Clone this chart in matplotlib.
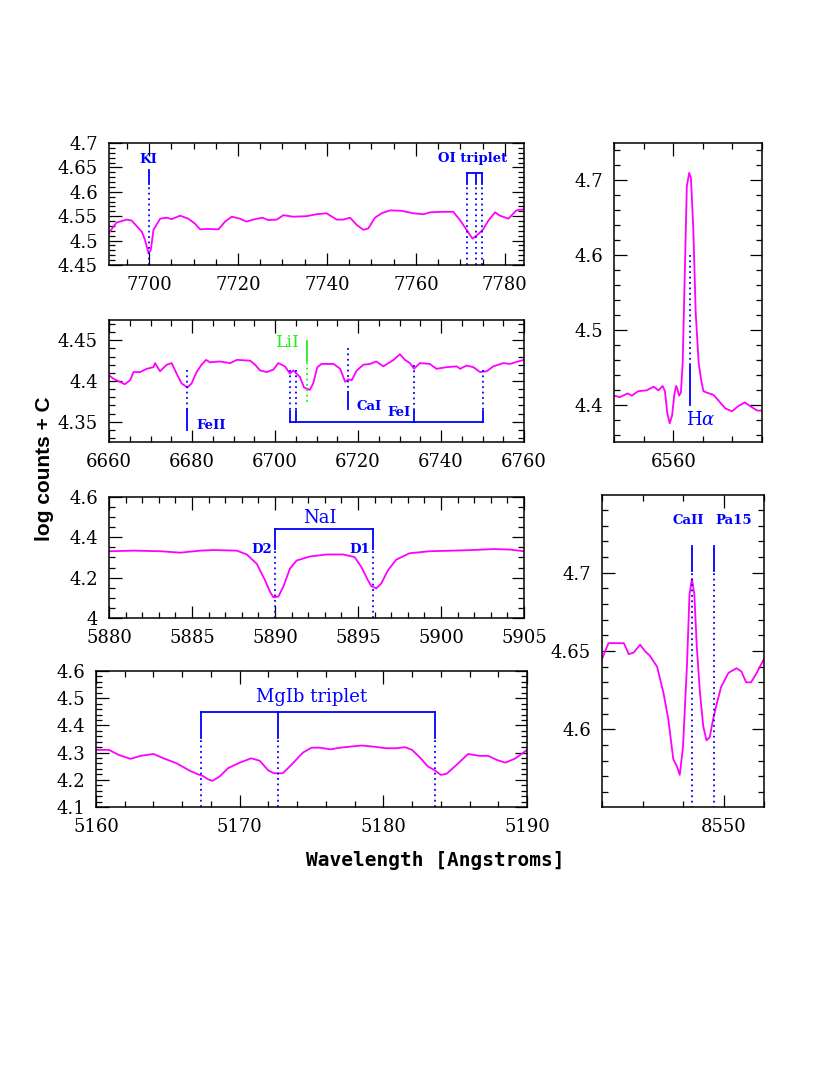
from __future__ import annotations

import matplotlib

matplotlib.use("Agg")
import matplotlib.pyplot as plt
from matplotlib.ticker import FuncFormatter, MultipleLocator


# ---------------------------------------------------------------------------
# Spectra (wavelength [A], log counts + C)
# ---------------------------------------------------------------------------

KI_WAVE = [7691.0, 7692.7, 7695.0, 7696.1, 7698.4, 7699.1, 7699.9, 7700.4,
           7701.0, 7702.5, 7704.0, 7705.1, 7707.0, 7708.8, 7710.3, 7711.5,
           7713.0, 7715.6, 7717.1, 7718.6, 7720.4, 7721.9, 7723.4, 7725.5,
           7726.8, 7728.7, 7730.2, 7732.4, 7735.4, 7737.7, 7739.9, 7742.2,
           7743.7, 7745.2, 7746.7, 7748.2, 7749.3, 7750.8, 7752.3, 7754.2,
           7756.8, 7759.4, 7761.7, 7763.2, 7766.1, 7768.4, 7769.9, 7771.4,
           7772.7, 7774.0, 7775.1, 7776.3, 7777.8, 7778.9, 7780.8, 7782.6,
           7784.3]
KI_FLUX = [4.516, 4.537, 4.543, 4.541, 4.518, 4.501, 4.474, 4.481,
           4.522, 4.545, 4.547, 4.544, 4.551, 4.545, 4.535, 4.523,
           4.524, 4.523, 4.539, 4.549, 4.545, 4.539, 4.543, 4.547,
           4.542, 4.543, 4.552, 4.549, 4.550, 4.554, 4.556, 4.543,
           4.543, 4.547, 4.532, 4.522, 4.525, 4.547, 4.556, 4.562,
           4.561, 4.556, 4.554, 4.558, 4.559, 4.559, 4.542, 4.522,
           4.504, 4.513, 4.523, 4.541, 4.558, 4.551, 4.545, 4.562,
           4.564]

LI_WAVE = [6660.0, 6661.0, 6662.2, 6663.8, 6665.1, 6665.9, 6667.5, 6669.1,
           6670.7, 6671.1, 6672.3, 6673.9, 6675.1, 6676.3, 6677.5, 6678.9,
           6679.9, 6681.1, 6682.3, 6683.4, 6684.3, 6686.7, 6689.2, 6690.8,
           6694.0, 6695.2, 6696.4, 6698.0, 6699.6, 6700.8, 6702.4, 6703.6,
           6704.4, 6706.0, 6707.0, 6708.4, 6709.2, 6710.2, 6711.2, 6714.1,
           6715.7, 6716.9, 6717.7, 6718.5, 6719.7, 6721.3, 6722.9, 6724.4,
           6726.1, 6728.6, 6730.1, 6731.3, 6732.5, 6733.5, 6734.9, 6737.3,
           6738.9, 6741.4, 6743.8, 6744.6, 6746.2, 6747.8, 6749.4, 6751.0,
           6752.6, 6755.0, 6756.6, 6758.6, 6760.0]
LI_FLUX = [4.407, 4.403, 4.400, 4.396, 4.401, 4.411, 4.411, 4.415,
           4.417, 4.422, 4.412, 4.420, 4.422, 4.409, 4.397, 4.392,
           4.397, 4.411, 4.420, 4.426, 4.423, 4.424, 4.422, 4.426,
           4.425, 4.420, 4.413, 4.411, 4.414, 4.422, 4.418, 4.409,
           4.413, 4.405, 4.392, 4.389, 4.397, 4.417, 4.421, 4.421,
           4.415, 4.399, 4.402, 4.401, 4.413, 4.420, 4.421, 4.424,
           4.418, 4.426, 4.433, 4.426, 4.422, 4.415, 4.422, 4.421,
           4.415, 4.417, 4.418, 4.415, 4.419, 4.417, 4.411, 4.412,
           4.418, 4.422, 4.421, 4.424, 4.426]

NA_WAVE = [5880.0, 5881.5, 5883.1, 5884.3, 5885.5, 5886.3, 5887.7, 5888.3,
           5888.9, 5889.4, 5889.7, 5889.9, 5890.2, 5890.5, 5890.9, 5891.3,
           5892.1, 5893.1, 5894.1, 5894.8, 5895.2, 5895.6, 5895.8, 5896.1,
           5896.4, 5896.8, 5897.3, 5898.1, 5899.3, 5900.7, 5901.9, 5903.2,
           5904.2, 5905.0]
NA_FLUX = [4.331, 4.334, 4.331, 4.324, 4.334, 4.337, 4.334, 4.315,
           4.269, 4.187, 4.130, 4.103, 4.106, 4.155, 4.245, 4.285,
           4.305, 4.315, 4.315, 4.302, 4.253, 4.187, 4.158, 4.147,
           4.171, 4.236, 4.289, 4.321, 4.331, 4.334, 4.337, 4.342,
           4.339, 4.331]

MG_WAVE = [5160.0, 5160.9, 5161.6, 5162.4, 5163.1, 5164.0, 5164.7, 5165.6,
           5166.5, 5167.1, 5167.4, 5167.8, 5168.1, 5168.6, 5169.2, 5170.0,
           5170.8, 5171.4, 5172.0, 5172.4, 5173.0, 5173.6, 5174.4, 5175.0,
           5175.6, 5176.3, 5177.0, 5177.7, 5178.5, 5179.3, 5180.2, 5180.9,
           5181.5, 5182.0, 5182.6, 5183.1, 5183.6, 5184.0, 5184.4, 5185.1,
           5185.9, 5186.7, 5187.3, 5187.9, 5188.5, 5189.2, 5190.0]
MG_FLUX = [4.310, 4.310, 4.291, 4.277, 4.288, 4.295, 4.279, 4.261,
           4.234, 4.220, 4.215, 4.202, 4.196, 4.212, 4.243, 4.263,
           4.279, 4.270, 4.234, 4.224, 4.224, 4.255, 4.300, 4.318,
           4.318, 4.312, 4.318, 4.322, 4.326, 4.322, 4.316, 4.316,
           4.320, 4.310, 4.279, 4.249, 4.234, 4.218, 4.222, 4.255,
           4.295, 4.288, 4.288, 4.273, 4.263, 4.279, 4.310]

HA_WAVE = [6550.0, 6551.0, 6552.3, 6553.0, 6554.1, 6555.5, 6556.7, 6557.5,
           6558.2, 6558.6, 6559.0, 6559.4, 6559.8, 6560.2, 6560.5, 6560.7,
           6561.0, 6561.3, 6561.6, 6562.0, 6562.3, 6562.7, 6563.0, 6563.4,
           6563.8, 6564.3, 6564.7, 6565.1, 6565.7, 6566.8, 6567.7, 6568.8,
           6569.9, 6571.0, 6572.1, 6573.0, 6574.2, 6575.0]
HA_FLUX = [4.412, 4.410, 4.415, 4.412, 4.418, 4.419, 4.424, 4.419,
           4.425, 4.418, 4.389, 4.375, 4.385, 4.414, 4.425, 4.421,
           4.412, 4.416, 4.456, 4.590, 4.692, 4.710, 4.703, 4.634,
           4.523, 4.456, 4.434, 4.418, 4.416, 4.413, 4.405, 4.395,
           4.391, 4.398, 4.403, 4.398, 4.392, 4.392]

CA_WAVE = [8535.0, 8535.8, 8537.0, 8537.7, 8538.3, 8538.9, 8539.7, 8540.3,
           8540.9, 8541.8, 8542.6, 8543.2, 8543.8, 8544.2, 8544.6, 8545.0,
           8545.5, 8545.8, 8546.1, 8546.4, 8546.7, 8547.1, 8547.5, 8547.9,
           8548.3, 8548.7, 8549.1, 8549.7, 8550.6, 8551.6, 8552.2, 8552.8,
           8553.4, 8554.1, 8555.0]
CA_FLUX = [4.645, 4.655, 4.655, 4.655, 4.648, 4.649, 4.654, 4.650,
           4.647, 4.640, 4.623, 4.606, 4.581, 4.577, 4.571, 4.589,
           4.642, 4.686, 4.696, 4.686, 4.653, 4.623, 4.602, 4.593,
           4.595, 4.606, 4.615, 4.627, 4.636, 4.639, 4.637, 4.630,
           4.630, 4.636, 4.645]

# line identifications
KI_LINE = 7699.9
OI_LINES = [7771.4, 7773.5, 7774.8]
FEII_LINE = 6678.9
FEI_LINES = [6703.6, 6705.0, 6733.5, 6750.0]
LII_LINE = 6707.8
CAI_LINE = 6717.5
NA_LINES = [5890.0, 5895.9]
NA_NAMES = ["D2", "D1"]
MG_LINES = [5167.3, 5172.7, 5183.6]
HA_LINE = 6562.9
CA_LINES = [8546.1, 8548.8]
CA_NAMES = ["CaII", "Pa15"]


# ---------------------------------------------------------------------------
# Helpers
# ---------------------------------------------------------------------------

FIG_W, FIG_H = 830, 1075
SPEC = "#ff00ff"
BLUE = "#0000ff"
GREEN = "#22ee22"
DOT = (0, (1, 2))


def px_box(x0: float, y0: float, x1: float, y1: float) -> list:
    """Pixel box (top-left origin) -> figure-fraction rect."""
    return [x0 / FIG_W, 1 - y1 / FIG_H, (x1 - x0) / FIG_W, (y1 - y0) / FIG_H]


def style_axis(ax, xlim, ylim, xmaj, xmin, ymaj, ymin) -> None:
    """SM-like box: inward ticks on every side."""
    ax.set_xlim(*xlim)
    ax.set_ylim(*ylim)
    ax.xaxis.set_major_locator(MultipleLocator(xmaj))
    ax.xaxis.set_minor_locator(MultipleLocator(xmin))
    ax.yaxis.set_major_locator(MultipleLocator(ymaj))
    ax.yaxis.set_minor_locator(MultipleLocator(ymin))
    fmt = FuncFormatter(lambda v, _: f"{v:.6g}")
    ax.xaxis.set_major_formatter(fmt)
    ax.yaxis.set_major_formatter(fmt)
    ax.tick_params(which="both", direction="in", top=True, right=True,
                   labelsize=13, pad=8)
    ax.tick_params(which="major", length=9, width=0.9)
    ax.tick_params(which="minor", length=4.5, width=0.9)


def mark(ax, x, y_dot0, y_dot1, y_solid, color=BLUE) -> None:
    """Dotted segment y_dot0..y_dot1, then solid y_dot1..y_solid."""
    ax.plot([x, x], [y_dot0, y_dot1], color=color, lw=1.3, ls=DOT)
    ax.plot([x, x], [y_dot1, y_solid], color=color, lw=1.3)


def bold_label(ax, x, y, s, ha="center") -> None:
    ax.text(x, y, s, color=BLUE, fontsize=9.5, fontweight="bold",
            ha=ha, va="center")


# ---------------------------------------------------------------------------
# Figure
# ---------------------------------------------------------------------------

plt.rcParams["font.family"] = ["DejaVu Serif"]
plt.rcParams["mathtext.fontset"] = "dejavuserif"
plt.rcParams["axes.linewidth"] = 1.1

fig = plt.figure(figsize=(FIG_W / 100, FIG_H / 100), dpi=100)

# KI / OI triplet
ax = fig.add_axes(px_box(109, 143, 524, 265))
ax.plot(KI_WAVE, KI_FLUX, color=SPEC, lw=1.3)
style_axis(ax, (7691, 7784.3), (4.45, 4.70), 20, 5, 0.05, 0.01)
mark(ax, KI_LINE, 4.45, 4.617, 4.644)
bold_label(ax, KI_LINE, 4.666, "KI")
for w in OI_LINES:
    mark(ax, w, 4.45, 4.617, 4.639)
ax.plot([OI_LINES[0], OI_LINES[-1]], [4.639, 4.639], color=BLUE, lw=1.3)
bold_label(ax, 7772.8, 4.668, "OI triplet")

# LiI region
ax = fig.add_axes(px_box(109, 320, 524, 442))
ax.plot(LI_WAVE, LI_FLUX, color=SPEC, lw=1.3)
style_axis(ax, (6660, 6760), (4.325, 4.475), 20, 5, 0.05, 0.01)
mark(ax, FEII_LINE, 4.414, 4.365, 4.340)
bold_label(ax, FEII_LINE + 2.2, 4.345, "FeII", ha="left")
for w, top in zip(FEI_LINES, [4.413, 4.413, 4.420, 4.413]):
    mark(ax, w, top, 4.363, 4.350)
ax.plot([FEI_LINES[0], FEI_LINES[-1]], [4.350, 4.350], color=BLUE, lw=1.3)
bold_label(ax, 6729.9, 4.361, "FeI")
mark(ax, CAI_LINE, 4.440, 4.387, 4.365)
bold_label(ax, CAI_LINE + 2.2, 4.369, "CaI", ha="left")
mark(ax, LII_LINE, 4.374, 4.424, 4.449, color=GREEN)
ax.text(6703.1, 4.447, "LiI", color=GREEN, fontsize=12.5, ha="center", va="center")

# NaI doublet
ax = fig.add_axes(px_box(109, 497, 524, 618))
ax.plot(NA_WAVE, NA_FLUX, color=SPEC, lw=1.3)
style_axis(ax, (5880, 5905), (4.0, 4.6), 5, 1, 0.2, 0.05)
for w, name in zip(NA_LINES, NA_NAMES):
    mark(ax, w, 4.0, 4.342, 4.443)
    bold_label(ax, w - 0.15, 4.339, name, ha="right")
ax.plot(NA_LINES, [4.443, 4.443], color=BLUE, lw=1.3)
ax.text(5892.7, 4.494, "NaI", color=BLUE, fontsize=13, ha="center", va="center")

# MgIb triplet
ax = fig.add_axes(px_box(96, 671, 527, 807))
ax.plot(MG_WAVE, MG_FLUX, color=SPEC, lw=1.3)
style_axis(ax, (5160, 5190), (4.1, 4.6), 10, 2, 0.1, 0.02)
for w in MG_LINES:
    mark(ax, w, 4.1, 4.352, 4.450)
ax.plot([MG_LINES[0], MG_LINES[-1]], [4.450, 4.450], color=BLUE, lw=1.3)
ax.text(5175.0, 4.505, "MgIb triplet", color=BLUE, fontsize=13,
        ha="center", va="center")

# H alpha
ax = fig.add_axes(px_box(614, 143, 762, 442))
ax.plot(HA_WAVE, HA_FLUX, color=SPEC, lw=1.3)
style_axis(ax, (6550, 6575), (4.35, 4.75), 20, 5, 0.1, 0.02)
mark(ax, HA_LINE, 4.600, 4.452, 4.400)
ax.text(6564.6, 4.380, r"H$\alpha$", color=BLUE, fontsize=13,
        ha="center", va="center")

# CaII / Pa15
ax = fig.add_axes(px_box(602, 495, 764, 807))
ax.plot(CA_WAVE, CA_FLUX, color=SPEC, lw=1.3)
style_axis(ax, (8535, 8555), (4.5505, 4.7495), 50, 5, 0.05, 0.01)
for w, name, xt in zip(CA_LINES, CA_NAMES, [8545.6, 8551.2]):
    mark(ax, w, 4.55, 4.701, 4.717)
    bold_label(ax, xt, 4.733, name)

# shared axis titles
fig.text(44 / FIG_W, 1 - 469 / FIG_H, "log counts + C", rotation=90,
         family="Liberation Sans", fontweight="bold", fontsize=15,
         ha="center", va="center")
fig.text(435 / FIG_W, 1 - 861 / FIG_H, "Wavelength [Angstroms]",
         family="DejaVu Sans Mono", fontweight="bold", fontsize=14,
         ha="center", va="center")

fig.savefig("out.png", dpi=100)
